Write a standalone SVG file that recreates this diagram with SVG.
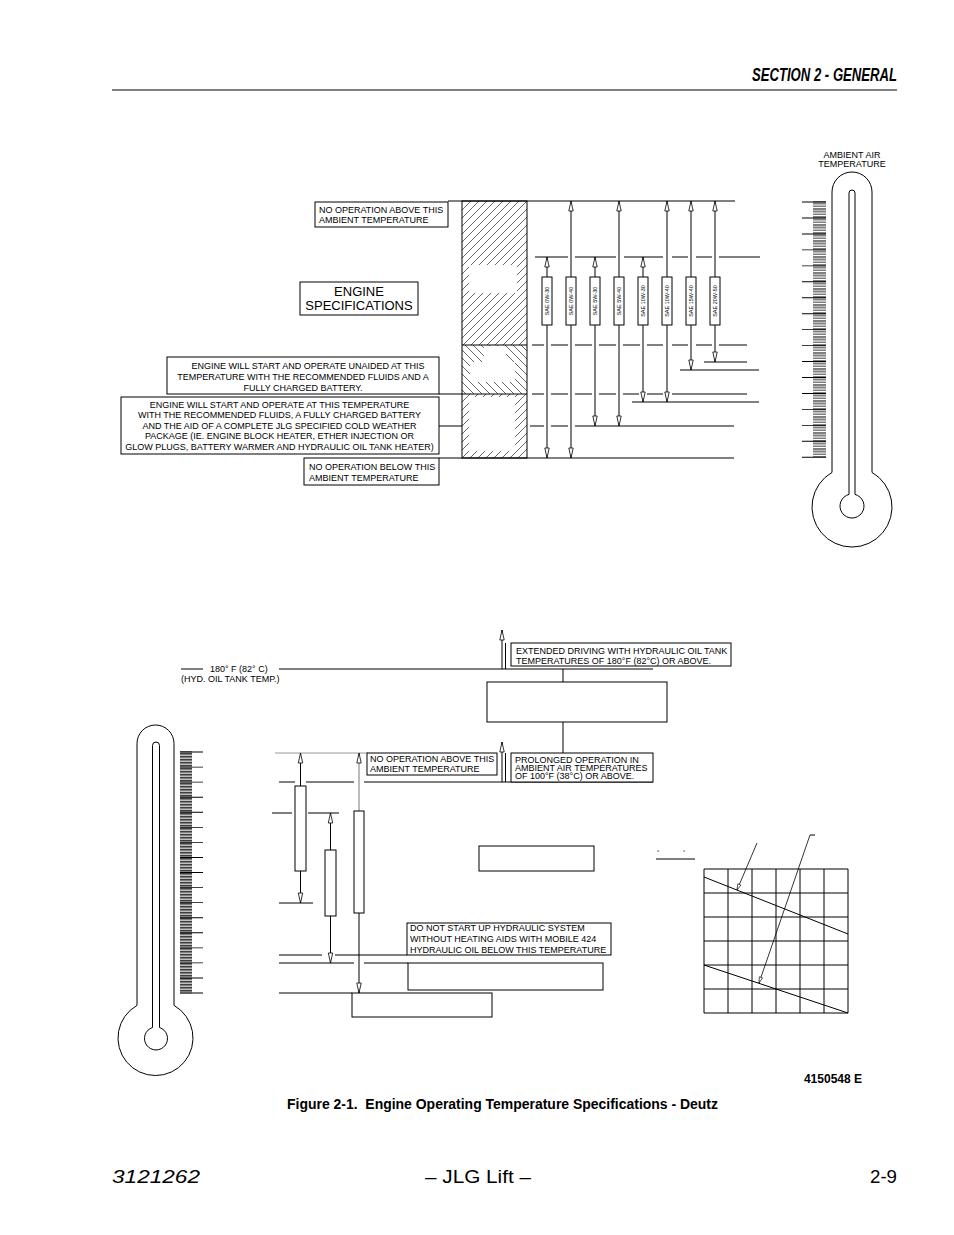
<svg xmlns="http://www.w3.org/2000/svg" width="954" height="1235" viewBox="0 0 954 1235">
<style>
.ln{stroke:#000;stroke-width:1;fill:none}
.gl{stroke:#999;stroke-width:1;fill:none}
.bx{fill:#fff;stroke:#000;stroke-width:1}
.t{font-family:"Liberation Sans",Arial,sans-serif;font-size:9px;fill:#000}
.tb{font-family:"Liberation Sans",Arial,sans-serif;font-size:13px;fill:#000}
.sm{font-family:"Liberation Sans",Arial,sans-serif;font-size:5.5px;fill:#000}
.ar{stroke:#000;stroke-width:1;fill:none;marker-end:url(#ah)}
.ag{stroke:#777;stroke-width:1;fill:none;marker-end:url(#ah)}
.as{stroke:#000;stroke-width:0.8;fill:none;marker-end:url(#as)}
</style>
<defs>
<marker id="ah" viewBox="0 0 10 5" refX="10" refY="2.5" markerWidth="10" markerHeight="5" markerUnits="userSpaceOnUse" orient="auto" overflow="visible">
<path d="M0,0.3 L10,2.5 L0,4.7 Z" fill="#fff" stroke="#000" stroke-width="0.8"/>
</marker>
<marker id="as" viewBox="0 0 6 4" refX="6" refY="2" markerWidth="6" markerHeight="4" markerUnits="userSpaceOnUse" orient="auto" overflow="visible">
<path d="M0,0.3 L6,2 L0,3.7 Z" fill="#fff" stroke="#000" stroke-width="0.6"/>
</marker>
<pattern id="hf" width="8" height="8" patternUnits="userSpaceOnUse">
<path d="M-2,2 L2,-2 M0,8 L8,0 M6,10 L10,6" stroke="#000" stroke-width="0.6"/>
</pattern>
<pattern id="hb" width="8" height="8" patternUnits="userSpaceOnUse">
<path d="M-2,6 L2,10 M0,0 L8,8 M6,-2 L10,2" stroke="#000" stroke-width="0.6"/>
</pattern>
</defs>
<rect width="954" height="1235" fill="#fff"/>

<g id="header">
<text x="897" y="81" text-anchor="end" font-family="Liberation Sans,Arial,sans-serif" font-size="18" font-weight="bold" font-style="italic" textLength="145" lengthAdjust="spacingAndGlyphs">SECTION 2 - GENERAL</text>
<line x1="112" y1="90" x2="897" y2="90" stroke="#000" stroke-width="1.2"/>
</g>

<!-- TOP CHART -->
<g id="engine-column">
<rect x="462" y="201" width="65" height="144" fill="url(#hf)"/>
<rect x="469" y="265" width="48" height="28" fill="#fff"/>
<rect x="462" y="345" width="65" height="49" fill="url(#hb)"/>
<rect x="470" y="362" width="45" height="20" fill="#fff"/>
<rect x="484" y="346" width="22" height="16" fill="#fff"/>
<rect x="462" y="394" width="65" height="64" fill="url(#hf)"/>
<rect x="469" y="397" width="46" height="54" fill="#fff"/>
<rect x="462" y="201" width="65" height="257" class="ln"/>
</g>

<g id="top-connectors">
<line x1="448" y1="201" x2="735" y2="201" class="ln"/>
<path class="ln" d="M535,257H568 M575,257H616 M624,257H663 M672,257H688 M696,257H712 M719,257H760"/>
<path class="ln" d="M462,345H527 M532,345H544 M551,345H568 M575,345H592 M599,345H616 M623,345H640 M647,345H663 M672,345H688 M696,345H712 M719,345H747"/>
<line x1="704" y1="362" x2="747" y2="362" class="ln"/>
<line x1="680" y1="370" x2="759" y2="370" class="ln"/>
<path class="ln" d="M439,394H527 M532,394H544 M551,394H568 M575,394H592 M599,394H616 M623,394H639 M647,394H663 M672,394H747"/>
<line x1="632" y1="402" x2="759" y2="402" class="ln"/>
<path class="ln" d="M439,426H462 M530,426H544 M551,426H568 M575,426H734"/>
<line x1="439" y1="458" x2="734" y2="458" class="ln"/>
<line x1="547" y1="277" x2="547" y2="257" class="ar"/>
<line x1="571" y1="277" x2="571" y2="201" class="ar"/>
<line x1="595" y1="277" x2="595" y2="257" class="ar"/>
<line x1="619" y1="277" x2="619" y2="201" class="ar"/>
<line x1="643" y1="277" x2="643" y2="257" class="ar"/>
<line x1="667" y1="277" x2="667" y2="201" class="ar"/>
<line x1="691" y1="277" x2="691" y2="201" class="ar"/>
<line x1="715" y1="277" x2="715" y2="201" class="ar"/>
<line x1="547" y1="325" x2="547" y2="458" class="ar"/>
<line x1="571" y1="325" x2="571" y2="458" class="ar"/>
<line x1="595" y1="325" x2="595" y2="426" class="ar"/>
<line x1="619" y1="325" x2="619" y2="426" class="ar"/>
<line x1="643" y1="325" x2="643" y2="402" class="ar"/>
<line x1="667" y1="325" x2="667" y2="402" class="ar"/>
<line x1="691" y1="325" x2="691" y2="370" class="ar"/>
<line x1="715" y1="325" x2="715" y2="362" class="ar"/>
</g>

<g id="oil-bars">
<g id="bar-0w30"><rect x="542" y="277" width="10" height="48" class="bx"/><text class="sm" text-anchor="middle" transform="translate(549,301) rotate(-90)">SAE 0W-30</text></g>
<g id="bar-0w40"><rect x="566" y="277" width="10" height="48" class="bx"/><text class="sm" text-anchor="middle" transform="translate(573,301) rotate(-90)">SAE 0W-40</text></g>
<g id="bar-5w30"><rect x="590" y="277" width="10" height="48" class="bx"/><text class="sm" text-anchor="middle" transform="translate(597,301) rotate(-90)">SAE 5W-30</text></g>
<g id="bar-5w40"><rect x="614" y="277" width="10" height="48" class="bx"/><text class="sm" text-anchor="middle" transform="translate(621,301) rotate(-90)">SAE 5W-40</text></g>
<g id="bar-10w30"><rect x="638" y="277" width="10" height="48" class="bx"/><text class="sm" text-anchor="middle" transform="translate(645,301) rotate(-90)">SAE 10W-30</text></g>
<g id="bar-10w40"><rect x="662" y="277" width="10" height="48" class="bx"/><text class="sm" text-anchor="middle" transform="translate(669,301) rotate(-90)">SAE 10W-40</text></g>
<g id="bar-15w40"><rect x="686" y="277" width="10" height="48" class="bx"/><text class="sm" text-anchor="middle" transform="translate(693,301) rotate(-90)">SAE 15W-40</text></g>
<g id="bar-20w50"><rect x="710" y="277" width="10" height="48" class="bx"/><text class="sm" text-anchor="middle" transform="translate(717,301) rotate(-90)">SAE 20W-50</text></g>
</g>

<g id="box-no-op-above">
<rect x="315" y="202" width="133" height="25" class="bx"/>
<text class="t" x="319" y="212.5">NO OPERATION ABOVE THIS</text>
<text class="t" x="319" y="222.5">AMBIENT TEMPERATURE</text>
</g>
<g id="box-engine-spec">
<rect x="300" y="282" width="118" height="33" class="bx"/>
<text class="tb" x="359" y="296" text-anchor="middle">ENGINE</text>
<text class="tb" x="359" y="310" text-anchor="middle">SPECIFICATIONS</text>
</g>
<g id="box-unaided">
<rect x="167" y="357" width="272" height="37" class="bx"/>
<text class="t" x="308" y="369" text-anchor="middle">ENGINE WILL START AND OPERATE UNAIDED AT THIS</text>
<text class="t" x="303" y="380" text-anchor="middle">TEMPERATURE WITH THE RECOMMENDED FLUIDS AND A</text>
<text class="t" x="303" y="390.5" text-anchor="middle">FULLY CHARGED BATTERY.</text>
</g>
<g id="box-cold-weather">
<rect x="121" y="397" width="318" height="57" class="bx"/>
<text class="t" x="279.5" y="407.5" text-anchor="middle">ENGINE WILL START AND OPERATE AT THIS TEMPERATURE</text>
<text class="t" x="279.5" y="418" text-anchor="middle">WITH THE RECOMMENDED FLUIDS, A FULLY CHARGED BATTERY</text>
<text class="t" x="279.5" y="428.5" text-anchor="middle">AND THE AID OF A COMPLETE JLG SPECIFIED COLD WEATHER</text>
<text class="t" x="279.5" y="439" text-anchor="middle">PACKAGE (IE. ENGINE BLOCK HEATER, ETHER INJECTION OR</text>
<text class="t" x="279.5" y="449.5" text-anchor="middle">GLOW PLUGS, BATTERY WARMER AND HYDRAULIC OIL TANK HEATER)</text>
</g>
<g id="box-no-op-below">
<rect x="304" y="458" width="135" height="27" class="bx"/>
<text class="t" x="309" y="469.5">NO OPERATION BELOW THIS</text>
<text class="t" x="309" y="480.5">AMBIENT TEMPERATURE</text>
</g>

<g id="thermometer-top">
<text class="t" x="852" y="158" text-anchor="middle" font-size="6.3">AMBIENT AIR</text>
<text class="t" x="852" y="166.5" text-anchor="middle" font-size="6.3">TEMPERATURE</text>
<path class="ln" d="M832,472.4 L832,192 A20,20 0 0 1 872,192 L872,472.4 A40,40 0 1 1 832,472.4 Z"/>
<path class="ln" d="M849,494.4 L849,193 A3,3 0 0 1 855,193 L855,494.4 A12,12 0 1 1 849,494.4 Z"/>
<line x1="819.5" y1="201.6" x2="819.5" y2="457.6" stroke="#000" stroke-width="13" stroke-dasharray="0.55 1.05"/>
<line x1="814" y1="201.6" x2="814" y2="458.2" stroke="#000" stroke-width="24" stroke-dasharray="0.9 15.05"/>
</g>

<!-- BOTTOM CHART -->
<g id="thermometer-bottom">
<path class="ln" d="M137,1005.4 L137,743.5 A18.5,18.5 0 0 1 174,743.5 L174,1005.4 A37.5,37.5 0 1 1 137,1005.4 Z"/>
<path class="ln" d="M152.5,1027.5 L152.5,745.5 A3.5,3.5 0 0 1 159.5,745.5 L159.5,1027.5 A11.5,11.5 0 1 1 152.5,1027.5 Z"/>
<line x1="186" y1="751.6" x2="186" y2="993.2" stroke="#000" stroke-width="12" stroke-dasharray="0.55 0.95"/>
<line x1="191.5" y1="751.6" x2="191.5" y2="993.8" stroke="#000" stroke-width="23" stroke-dasharray="0.9 14.16"/>
</g>

<g id="bottom-connectors">
<line x1="181" y1="669" x2="203" y2="669" class="ln"/>
<line x1="279" y1="669" x2="653" y2="669" class="ln"/>
<line x1="502" y1="669" x2="502" y2="630" class="ar"/>
<line x1="505.5" y1="643" x2="505.5" y2="669" class="ln"/>
<line x1="563" y1="669" x2="563" y2="682" class="ln"/>
<line x1="563" y1="722" x2="563" y2="753" class="ln"/>
<line x1="275" y1="753" x2="368" y2="753" class="gl"/>
<line x1="502" y1="782" x2="502" y2="742" class="ar"/>
<line x1="505.5" y1="753" x2="505.5" y2="782" class="ln"/>
<path class="ln" d="M279,782H295 M306,782H354 M364,782H653"/>
<path class="ln" d="M272,813H292 M308,813H339"/>
<line x1="279" y1="903" x2="313" y2="903" class="ln"/>
<path class="ln" d="M279,955H322 M335,955H407"/>
<path class="ln" d="M279,963H354 M364,963H408"/>
<line x1="279" y1="993" x2="352" y2="993" class="ln"/>
<line x1="300.5" y1="786" x2="300.5" y2="753" class="ar"/>
<line x1="300.5" y1="871" x2="300.5" y2="903" class="ar"/>
<line x1="330.5" y1="850" x2="330.5" y2="813" class="ar"/>
<line x1="330.5" y1="916" x2="330.5" y2="963" class="ar"/>
<line x1="359" y1="811" x2="359" y2="753" class="ag"/>
<line x1="359" y1="913" x2="359" y2="993" class="ar"/>
</g>

<g id="bottom-bars">
<rect id="bar-a" x="295" y="786" width="11" height="85" class="bx"/>
<rect id="bar-b" x="325" y="850" width="11" height="66" class="bx"/>
<rect id="bar-c" x="354" y="811" width="10" height="102" class="bx"/>
</g>

<g id="label-180">
<text class="t" x="210" y="672" font-size="8">180° F (82° C)</text>
<text class="t" x="181" y="682" font-size="8">(HYD. OIL TANK TEMP.)</text>
</g>
<g id="box-extended">
<rect x="511" y="643" width="220" height="23" class="bx"/>
<text class="t" x="516" y="654">EXTENDED DRIVING WITH HYDRAULIC OIL TANK</text>
<text class="t" x="516" y="664">TEMPERATURES OF 180°F (82°C) OR ABOVE.</text>
</g>
<g id="box-empty-1"><rect x="487" y="682" width="180" height="40" class="bx"/></g>
<g id="box-no-op-above-2">
<rect x="367" y="753" width="130" height="22" class="bx"/>
<text class="t" x="370" y="762">NO OPERATION ABOVE THIS</text>
<text class="t" x="370" y="771.5">AMBIENT TEMPERATURE</text>
</g>
<g id="box-prolonged">
<rect x="511" y="753" width="142" height="29" class="bx"/>
<text class="t" x="515" y="763">PROLONGED OPERATION IN</text>
<text class="t" x="515" y="771">AMBIENT AIR TEMPERATURES</text>
<text class="t" x="515" y="779">OF 100°F (38°C) OR ABOVE.</text>
</g>
<g id="box-empty-2"><rect x="479" y="846" width="115" height="25" class="bx"/></g>
<g id="box-do-not-start">
<rect x="407" y="923" width="204" height="32" class="bx"/>
<text class="t" x="410" y="931">DO NOT START UP HYDRAULIC SYSTEM</text>
<text class="t" x="410" y="942">WITHOUT HEATING AIDS WITH MOBILE 424</text>
<text class="t" x="410" y="952.5">HYDRAULIC OIL BELOW THIS TEMPERATURE</text>
</g>
<g id="box-empty-3"><rect x="408" y="963" width="195" height="27" class="bx"/></g>
<g id="box-empty-4"><rect x="352" y="993" width="140" height="24" class="bx"/></g>

<g id="grid-chart">
<text class="sm" x="657" y="854" font-size="6">°</text>
<text class="sm" x="683" y="854" font-size="6">°</text>
<line x1="656" y1="859" x2="695" y2="859" class="ln"/>
<path class="ln" d="M704,869H848 M704,893H848 M704,917H848 M704,941H848 M704,965H848 M704,989H848 M704,1013H848 M704,869V1013 M728,869V1013 M752,869V1013 M776,869V1013 M800,869V1013 M824,869V1013 M848,869V1013"/>
<line x1="704" y1="877" x2="848" y2="934" class="ln" stroke-width="0.9"/>
<line x1="704" y1="965" x2="848" y2="1013" class="ln" stroke-width="0.9"/>
<line x1="757" y1="843" x2="737" y2="890" class="as"/>
<line x1="815" y1="835" x2="810" y2="835" class="ln" stroke-width="0.8"/>
<line x1="810" y1="835" x2="759" y2="983" class="as"/>
</g>

<g id="captions">
<text x="862" y="1083" text-anchor="end" font-family="Liberation Sans,Arial,sans-serif" font-size="12" font-weight="bold">4150548 E</text>
<text x="287" y="1109" font-family="Liberation Sans,Arial,sans-serif" font-size="14" font-weight="bold" textLength="431" lengthAdjust="spacingAndGlyphs">Figure 2-1.&#160; Engine Operating Temperature Specifications - Deutz</text>
</g>
<g id="footer">
<text x="112" y="1183" font-family="Liberation Sans,Arial,sans-serif" font-size="19" font-style="italic" textLength="88" lengthAdjust="spacingAndGlyphs">3121262</text>
<text x="425" y="1183" font-family="Liberation Sans,Arial,sans-serif" font-size="19" textLength="106" lengthAdjust="spacingAndGlyphs">– JLG Lift –</text>
<text x="870" y="1183" font-family="Liberation Sans,Arial,sans-serif" font-size="19" textLength="27" lengthAdjust="spacingAndGlyphs">2-9</text>
</g>
</svg>
